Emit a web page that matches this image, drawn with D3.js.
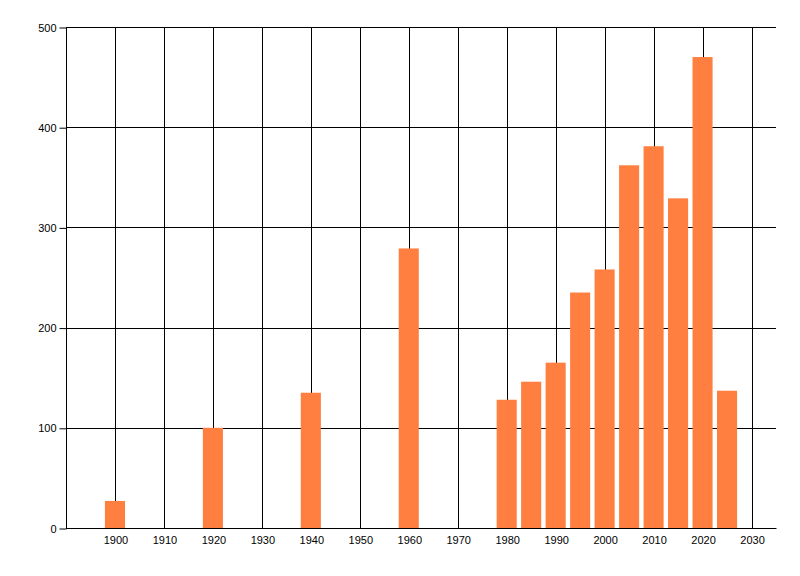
<!DOCTYPE html>
<html lang="en">
  <head>
    <meta charset="UTF-8" />
    <title>d3</title>
    <script src="https://d3js.org/d3.v7.min.js"></script>
    <style>
      body { margin: 0; background: #fff; }
      text { font-family: "Liberation Sans", Arial, sans-serif; font-size: 11px; fill: #000; }
    </style>
  </head>
  <body></body>
  <script type="text/javascript">
    var width = 800,
      height = 576;

    // data
    var years = [1900, 1920, 1940, 1960, 1980, 1985, 1990, 1995, 2000, 2005, 2010, 2015, 2020, 2025];
    var values = [27, 100, 135, 279, 128, 146, 165, 235, 258, 362, 381, 329, 470, 137];
    var xTicks = [1900, 1910, 1920, 1930, 1940, 1950, 1960, 1970, 1980, 1990, 2000, 2010, 2020, 2030];
    var yTicks = [0, 100, 200, 300, 400, 500];

    // plot box (window.top is reserved, so no "top" var)
    var pLeft = 66, pRight = 776, pTop = 27, pBottom = 528;

    var x = d3.scaleLinear().domain([1890, 2035]).range([pLeft, pRight]);
    var y = d3.scaleLinear().domain([0, 500]).range([pBottom, pTop]);
    var barW = x(1904.1) - x(1900);

    var svg = d3.select('body').append('svg')
      .attr('width', width)
      .attr('height', height);

    // grid
    svg.append('g').selectAll('line').data(xTicks).enter().append('line')
      .attr('x1', d => Math.round(x(d)) + 0.5).attr('x2', d => Math.round(x(d)) + 0.5)
      .attr('y1', pTop).attr('y2', pBottom)
      .attr('stroke', '#000');
    svg.append('g').selectAll('line').data(yTicks).enter().append('line')
      .attr('x1', pLeft).attr('x2', pRight)
      .attr('y1', d => Math.round(y(d)) + 0.5).attr('y2', d => Math.round(y(d)) + 0.5)
      .attr('stroke', '#000');

    // bars
    svg.append('g').selectAll('rect').data(years).enter().append('rect')
      .attr('x', (d) => x(d) - barW / 2)
      .attr('width', barW)
      .attr('y', (d, i) => y(values[i]))
      .attr('height', (d, i) => y(0) - y(values[i]))
      .attr('fill', '#ff7f40');

    // axes
    var yAxis = d3.axisLeft(y).tickValues(yTicks).tickSize(7).tickPadding(3).tickFormat(d3.format('d'));
    var gy = svg.append('g').attr('transform', 'translate(' + (pLeft + 0.5) + ',0.5)').call(yAxis);
    gy.select('.domain').attr('d', 'M0,' + pTop + 'V' + pBottom).attr('stroke', '#000');
    gy.selectAll('text').style('font-family', '"Liberation Sans", Arial, sans-serif').style('font-size', '11px');

    var xAxis = d3.axisBottom(x).tickValues(xTicks).tickSize(0).tickPadding(8).tickFormat(d3.format('d'));
    var gx = svg.append('g').attr('transform', 'translate(0.5,' + (pBottom + 0.5) + ')').call(xAxis);
    gx.select('.domain').attr('d', 'M' + pLeft + ',0H' + pRight).attr('stroke', '#000');
    gx.selectAll('text').style('font-family', '"Liberation Sans", Arial, sans-serif').style('font-size', '11px');
  </script>
</html>
